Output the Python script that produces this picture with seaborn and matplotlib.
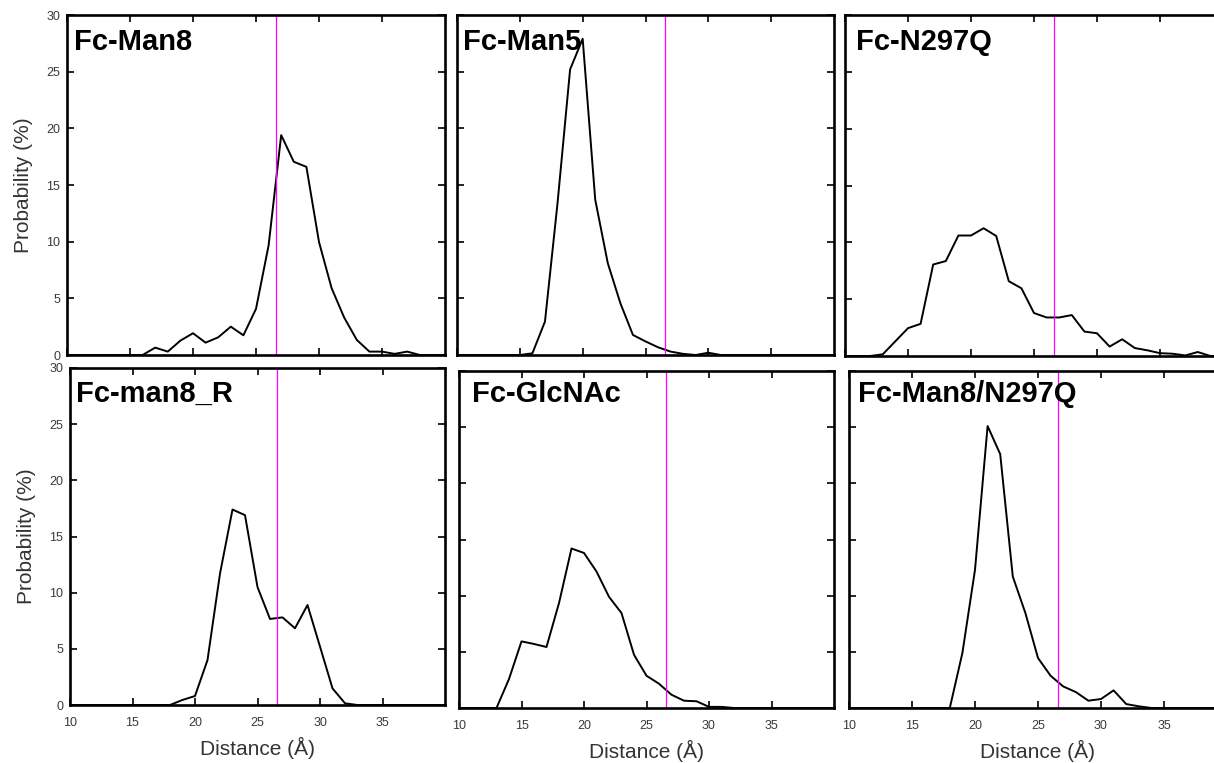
import matplotlib
matplotlib.use('Agg')
import matplotlib.pyplot as plt
import pandas as pd
import seaborn as sns

# distance bins (Angstrom) and probability (%) per system
distance = list(range(10, 41))

fc_man8 = [0, 0, 0, 0, 0, 0, 0, 0.65, 0.3, 1.27, 1.92, 1.09, 1.56, 2.5, 1.74, 4.07,
           9.67, 19.4, 17.05, 16.6, 9.97, 5.9, 3.3, 1.33, 0.3, 0.3, 0.1, 0.3, 0, 0, 0]
fc_man5 = [0, 0, 0, 0, 0, 0, 0.15, 2.95, 13.4, 25.2, 27.9, 13.7, 8.1, 4.57, 1.77, 1.2,
           0.68, 0.3, 0.1, 0, 0.2, 0, 0, 0, 0, 0, 0, 0, 0, 0, 0]
fc_n297q = [0, 0, 0, 0.15, 1.3, 2.45, 2.83, 8.05, 8.35, 10.6, 10.6, 11.24, 10.56, 6.58,
            5.96, 3.78, 3.39, 3.39, 3.6, 2.15, 2.0, 0.83, 1.47, 0.7, 0.5, 0.25, 0.2,
            0.05, 0.35, 0, 0]
fc_man8_r = [0, 0, 0, 0, 0, 0, 0, 0, 0, 0.45, 0.8, 4.0, 11.7, 17.4, 16.9, 10.5, 7.66,
             7.8, 6.83, 8.9, 5.2, 1.48, 0.15, 0, 0, 0, 0, 0, 0, 0, 0]
fc_glcnac = [0, 0, 0, 0, 2.58, 5.93, 5.7, 5.43, 9.34, 14.2, 13.8, 12.15, 9.9, 8.45,
             4.74, 2.87, 2.16, 1.18, 0.65, 0.6, 0.1, 0.1, 0, 0, 0, 0, 0, 0, 0, 0, 0]
fc_man8_n297q = [0, 0, 0, 0, 0, 0, 0, 0, 0, 4.9, 12.3, 25.1, 22.6, 11.7, 8.45, 4.45,
                 2.87, 1.92, 1.42, 0.65, 0.8, 1.57, 0.35, 0.15, 0, 0, 0, 0, 0, 0, 0]

names = ['Fc-Man8', 'Fc-Man5', 'Fc-N297Q', 'Fc-man8_R', 'Fc-GlcNAc', 'Fc-Man8/N297Q']
series = [fc_man8, fc_man5, fc_n297q, fc_man8_r, fc_glcnac, fc_man8_n297q]
cutoff = 26.55

sns.set_theme(style='ticks')
plt.rcParams['font.family'] = ['Liberation Sans', 'DejaVu Sans']

W, H = 1214, 763
fig = plt.figure(figsize=(W / 100, H / 100), dpi=100)

# panel boxes in pixels (left, top, width, height) and title offset (dx, baseline dy)
boxes = [(67, 15, 378, 340), (457, 15, 377, 340), (845, 15, 378, 341),
         (70, 368, 375, 337), (459, 371, 375, 337), (849, 371, 378, 337)]
title_offsets = [(7, 35), (6, 35), (11, 35), (6, 34), (13, 31), (9, 31)]

for i, (name, vals) in enumerate(zip(names, series)):
    l, t, w, h = boxes[i]
    ax = fig.add_axes([l / W, 1 - (t + h) / H, w / W, h / H])
    df = pd.DataFrame({'Distance': distance, 'Probability': vals})
    sns.lineplot(data=df, x='Distance', y='Probability', ax=ax,
                 color='black', linewidth=1.4)
    ax.axvline(cutoff, color='#ff00ff', linewidth=0.9)

    ax.set_xlim(10, 40)
    ax.set_ylim(0, 30)
    ax.set_xticks([10, 15, 20, 25, 30, 35])
    ax.set_yticks([0, 5, 10, 15, 20, 25, 30])
    ax.tick_params(direction='in', top=True, right=True, length=5, width=1.2,
                   labelsize=9, labelcolor='#3a3a3a', color='black')
    ax.tick_params(axis='x', pad=8.5)
    ax.tick_params(axis='y', pad=5)
    for s in ax.spines.values():
        s.set_linewidth(1.9)
        s.set_color('black')

    row, col = divmod(i, 3)
    if row == 0:
        ax.tick_params(axis='x', labelbottom=False)
        ax.set_xlabel('')
    else:
        ax.set_xlabel('Distance (Å)', fontsize=15, color='#333333', labelpad=6)
    if col == 0:
        ax.set_ylabel('Probability (%)', fontsize=15, color='#333333')
        ax.yaxis.set_label_coords(-34 / w, 0.5)
    else:
        ax.tick_params(axis='y', labelleft=False)
        ax.set_ylabel('')

    dx, dy = title_offsets[i]
    ax.text(dx / w, 1 - dy / h, name, transform=ax.transAxes, fontsize=21,
            fontweight='bold', color='black', ha='left', va='baseline')

fig.savefig('out.png', dpi=100)
